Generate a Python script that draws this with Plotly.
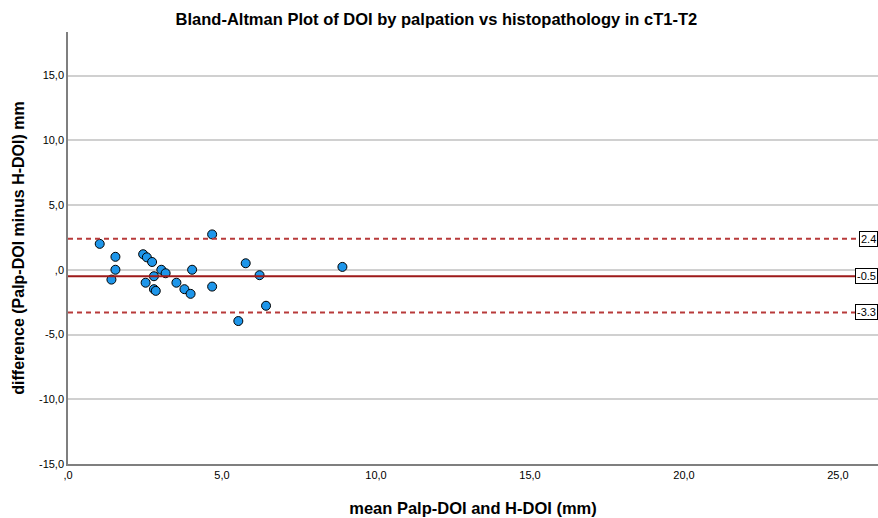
import plotly.graph_objects as go

mean_vals = [1.03, 1.54, 1.54, 1.41, 2.44, 2.56, 2.73, 2.52, 2.79, 2.79, 2.85, 3.03,
             3.17, 3.52, 3.78, 3.98, 4.03, 4.68, 4.68, 5.53, 5.77, 6.22, 6.43, 8.91]
diff_vals = [2.0, 1.0, 0.0, -0.76, 1.2, 0.96, 0.6, -1.0, -0.5, -1.5, -1.63, 0.0,
             -0.27, -1.0, -1.5, -1.86, 0.0, 2.73, -1.3, -3.96, 0.5, -0.42, -2.78, 0.22]

mean_diff = -0.5
upper_loa = 2.4
lower_loa = -3.3
ref_labels = ["2.4", "-0.5", "-3.3"]

x_ticks = [0, 5, 10, 15, 20, 25]
x_ticklabels = [",0", "5,0", "10,0", "15,0", "20,0", "25,0"]
y_ticks = [-15, -10, -5, 0, 5, 10, 15]
y_ticklabels = ["-15,0", "-10,0", "-5,0", ",0", "5,0", "10,0", "15,0"]

font = "Liberation Sans, Arial, sans-serif"

fig = go.Figure()

for val, dash, color, w in [(upper_loa, "5px,4px", "#b83a3a", 2),
                            (lower_loa, "5px,4px", "#b83a3a", 2),
                            (mean_diff, "solid", "#9e1a1a", 2)]:
    fig.add_shape(type="line", xref="paper", x0=0, x1=1, yref="y", y0=val, y1=val,
                  line=dict(color=color, width=w, dash=dash), layer="above")

fig.add_trace(go.Scatter(
    x=mean_vals, y=diff_vals, mode="markers",
    marker=dict(size=9, color="#1e96ea", line=dict(color="#000000", width=1)),
    showlegend=False, cliponaxis=False,
))

for val, lab in zip([upper_loa, mean_diff, lower_loa], ref_labels):
    fig.add_annotation(xref="paper", x=1, xanchor="right", yref="y", y=val,
                       text=lab, showarrow=False, bgcolor="white",
                       bordercolor="#000000", borderwidth=1, borderpad=1,
                       font=dict(family=font, size=11, color="#000000"))

fig.update_layout(
    width=878, height=518,
    margin=dict(l=68, r=0, t=32, b=54),
    paper_bgcolor="white", plot_bgcolor="white",
    font=dict(family=font, color="#000000"),
    title=dict(text="<b>Bland-Altman Plot of DOI by palpation vs histopathology in cT1-T2</b>",
               x=0.497, xref="container", xanchor="center", y=0.962, yanchor="middle",
               font=dict(size=16.5, family=font)),
    xaxis=dict(range=[0, 26.3], tickvals=x_ticks, ticktext=x_ticklabels,
               showgrid=False, zeroline=False, showline=True, linecolor="#7f7f7f",
               linewidth=1.5, ticks="", tickfont=dict(size=11, family=font),
               title=dict(text="<b>mean Palp-DOI and H-DOI (mm)</b>", standoff=22,
                          font=dict(size=16.5, family=font))),
    yaxis=dict(range=[-15, 18.36], tickvals=y_ticks, ticktext=y_ticklabels,
               showgrid=True, gridcolor="#d0d0d0", gridwidth=1.5, zeroline=False,
               showline=True, linecolor="#7f7f7f", linewidth=1.5, ticks="",
               tickfont=dict(size=11, family=font),
               title=dict(text="<b>difference (Palp-DOI minus H-DOI) mm</b>", standoff=10,
                          font=dict(size=16, family=font))),
)

fig.write_html("out.html")
